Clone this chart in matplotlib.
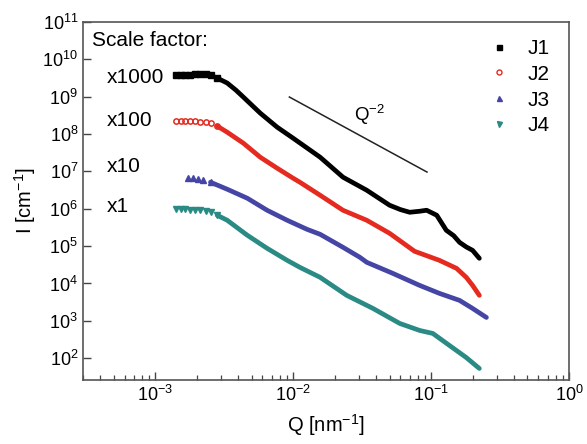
import matplotlib
matplotlib.use("Agg")
import matplotlib.pyplot as plt
from matplotlib.lines import Line2D

plt.rcParams['font.family'] = ['Liberation Sans', 'DejaVu Sans']
plt.rcParams['mathtext.fontset'] = 'custom'
plt.rcParams['mathtext.rm'] = 'Liberation Sans'
plt.rcParams['mathtext.it'] = 'Liberation Sans:italic'
plt.rcParams['mathtext.default'] = 'regular'

# values (scaled intensities, as plotted)
q1 = [1.41e-3, 1.53e-3, 1.66e-3, 1.80e-3, 1.96e-3, 2.13e-3, 2.32e-3, 2.52e-3, 2.82e-3,
      3.33e-3, 3.85e-3, 4.36e-3, 5.78e-3, 7.66e-3, 1.00e-2, 1.33e-2, 1.57e-2, 2.30e-2, 3.42e-2,
      5.01e-2, 6.00e-2, 7.00e-2, 8.26e-2, 9.29e-2, 0.110, 0.129, 0.146, 0.161, 0.180, 0.200, 0.224]
i1 = [3.79e9, 3.79e9, 3.79e9, 3.79e9, 4.04e9, 4.04e9, 4.04e9, 3.79e9, 3.15e9,
      2.32e9, 1.50e9, 9.75e8, 3.63e8, 1.53e8, 7.76e7, 3.70e7, 2.40e7, 7.00e6, 3.13e6,
      1.24e6, 9.50e5, 8.05e5, 8.57e5, 9.12e5, 6.70e5, 2.65e5, 1.90e5, 1.26e5, 9.50e4, 7.71e4, 4.71e4]

q2 = [1.41e-3, 1.53e-3, 1.66e-3, 1.80e-3, 1.96e-3, 2.13e-3, 2.32e-3, 2.52e-3, 2.82e-3,
      3.33e-3, 4.36e-3, 5.78e-3, 7.66e-3, 1.00e-2, 1.12e-2, 1.57e-2, 2.30e-2, 3.42e-2,
      5.01e-2, 7.60e-2, 0.115, 0.153, 0.180, 0.200, 0.224]
i2 = [2.22e8, 2.22e8, 2.22e8, 2.22e8, 2.22e8, 2.08e8, 2.08e8, 1.96e8, 1.63e8,
      1.12e8, 5.70e7, 2.40e7, 1.22e7, 6.58e6, 5.13e6, 2.30e6, 9.12e5, 4.92e5,
      2.20e5, 7.26e4, 4.16e4, 2.54e4, 1.46e4, 8.89e3, 4.80e3]

q3 = [1.72e-3, 1.87e-3, 2.03e-3, 2.24e-3, 2.52e-3, 3.33e-3, 4.66e-3, 6.48e-3, 9.06e-3,
      1.26e-2, 1.57e-2, 2.30e-2, 3.05e-2, 3.42e-2, 5.27e-2, 8.26e-2, 0.115, 0.161,
      0.200, 0.252]
i3 = [6.58e6, 6.58e6, 6.18e6, 5.81e6, 5.13e6, 3.33e6, 1.91e6, 9.12e5, 4.92e5,
      2.82e5, 2.07e5, 9.29e4, 5.01e4, 3.68e4, 1.87e4, 8.89e3, 5.43e3, 3.52e3,
      2.15e3, 1.23e3]

q4 = [1.41e-3, 1.53e-3, 1.66e-3, 1.80e-3, 1.96e-3, 2.13e-3, 2.32e-3, 2.52e-3, 2.82e-3,
      3.33e-3, 4.66e-3, 6.48e-3, 9.06e-3, 1.12e-2, 1.57e-2, 2.45e-2, 3.79e-2, 5.93e-2,
      8.26e-2, 0.103, 0.136, 0.180, 0.224]
i4 = [9.70e5, 9.70e5, 9.70e5, 9.12e5, 9.12e5, 9.12e5, 8.57e5, 8.05e5, 6.70e5,
      4.92e5, 1.95e5, 8.73e4, 4.16e4, 2.70e4, 1.46e4, 4.80e3, 2.15e3, 851,
      553, 459, 219, 104, 53]

labels = ['J1', 'J2', 'J3', 'J4']
scales = ['x1000', 'x100', 'x10', 'x1']
n_sparse = [9, 9, 5, 9]   # leading points drawn as separate markers
slope_q = [9.4e-3, 9.35e-2]
slope_i = [9.8e8, 9.6e6]

colors = ['black', '#e52b20', '#4545a5', '#2a8a84']
markers = ['s', 'o', '^', 'v']

fig = plt.figure(figsize=(5.87, 4.44), dpi=100)
ax = fig.add_axes([0.1414, 0.1441, 0.8279, 0.8064])

series = [(q1, i1), (q2, i2), (q3, i3), (q4, i4)]
handles = []
for k, (q, i) in enumerate(series):
    c = colors[k]
    n = n_sparse[k]
    # the dense part of the data shows as a thick band
    ax.plot(q[n - 1:], i[n - 1:], '-', color=c, lw=3.4, solid_capstyle='round',
            solid_joinstyle='round', zorder=2)
    if k == 1:
        ax.plot(q[:n], i[:n], 'o', ms=3.8, mfc='none', mec=c, mew=1.1, zorder=3)
    else:
        ax.plot(q[:n], i[:n], markers[k], ms=3.8, color=c, mec=c, zorder=3)
    handles.append(Line2D([], [], ls='none', marker=markers[k], ms=3.6, color=c,
                          mfc='none' if k == 1 else c, mec=c))

ax.plot(slope_q, slope_i, '-', color='#222222', lw=1.1)
ax.text(0.036, 3.2e8, 'Q$^{-2}$', fontsize=13.5, ha='center', va='center')

ax.set_xscale('log')
ax.set_yscale('log')
ax.set_xlim(3.0e-4, 1.0)
ax.set_ylim(26, 1e11)
ax.set_yticks([10.0**p for p in range(2, 12)])
ax.yaxis.set_minor_locator(matplotlib.ticker.NullLocator())

ax.tick_params(which='both', direction='in', top=False, right=False, labelsize=13, color='#444444')
ax.tick_params(which='major', length=6, width=1)
ax.tick_params(which='minor', length=3.5, width=0.9)
for s in ax.spines.values():
    s.set_color('#555555')
    s.set_linewidth(1.2)

ax.set_xlabel('Q [nm$^{-1}$]', fontsize=14.5, labelpad=5)
ax.set_ylabel('I [cm$^{-1}$]', fontsize=14.5, labelpad=3)

ax.text(0.018, 0.947, 'Scale factor:', transform=ax.transAxes, fontsize=15, va='center')
for sc, yy in zip(scales, [0.846, 0.726, 0.595, 0.486]):
    ax.text(0.049, yy, sc, transform=ax.transAxes, fontsize=15, va='center')

ax.legend(handles, labels, loc='upper right', bbox_to_anchor=(0.982, 0.982), frameon=False,
          borderpad=0, fontsize=15, handlelength=1.0, handletextpad=0.9, labelspacing=0.33)

fig.savefig('out.png', dpi=100)
